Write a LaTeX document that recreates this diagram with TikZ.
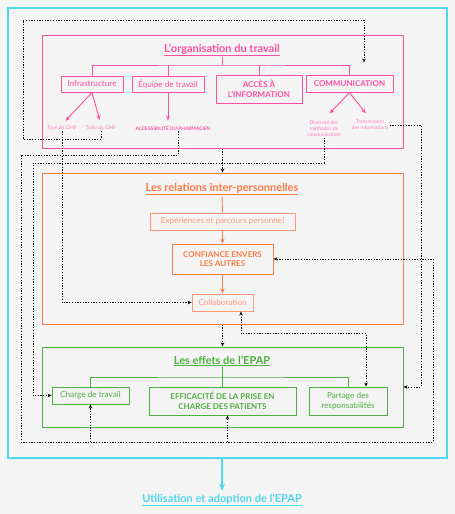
\documentclass[tikz,border=0pt]{standalone}
\usepackage{fontspec}
\setmainfont{Lato}
\usetikzlibrary{arrows.meta, positioning}

\definecolor{fondgris}{HTML}{F4F4F4}
\definecolor{rose}{HTML}{FF4FA0}
\definecolor{roseclair}{HTML}{FF7DBE}
\definecolor{orangevif}{HTML}{FF7A45}
\definecolor{orangeclair}{HTML}{FF9A78}
\definecolor{vert}{HTML}{4DAF3F}
\definecolor{cyanvif}{HTML}{4DD8F0}

\tikzset{
  secbox/.style={draw, line width=1pt, inner sep=0pt},
  sectitle/.style={inner sep=1pt, font=\fontsize{11}{13}\selectfont\bfseries},
  item/.style={draw, line width=0.9pt, inner sep=1pt, align=center, font=\fontsize{8.2}{9.6}\selectfont},
  itembf/.style={item, font=\fontsize{8}{9.6}\selectfont\bfseries},
  petit/.style={inner sep=1pt, align=center, font=\fontsize{5}{6}\selectfont},
  tree/.style={line width=0.9pt},
  treearrow/.style={line width=0.9pt, -{Stealth[length=5pt,width=4pt]}},
  link/.style={line width=0.9pt, dash pattern=on 1.3pt off 1.4pt, -{Stealth[length=4pt,width=3.5pt]}},
}

\begin{document}
\begin{tikzpicture}[x=1pt, y=-1pt]
  % fond de la figure
  \fill[fondgris] (0,0) rectangle (455,514);

  % cadre general et sortie
  \node[secbox, cyanvif, line width=1.6pt, minimum width=439pt, minimum height=450pt] (cadre) at (227.5,233) {};
  \node[sectitle, text=cyanvif] (usage) at (222,500) {\underline{Utilisation et adoption de l'EPAP}};
  \draw[cyanvif, line width=1.4pt, -{Stealth[length=7pt,width=6pt]}] (usage.north |- cadre.south) -- ([yshift=2pt]usage.north);

  % ---- L'organisation du travail ----
  \node[secbox, rose, minimum width=361pt, minimum height=113pt] (orgbox) at (222.5,91.5) {};
  \node[sectitle, text=rose] (orgtitle) at (222,50) {\underline{L'organisation du travail}};
  \node[item, rose, minimum width=62pt, minimum height=16pt] (infra) at (92,84) {Infrastructure};
  \node[item, rose, minimum width=72pt, minimum height=16pt] (equipe) at (168,84) {Équipe de travail};
  \node[itembf, rose, minimum width=86pt, minimum height=28pt] (acces) at (259,89) {ACCÈS À\\L'INFORMATION};
  \node[itembf, rose, minimum width=87pt, minimum height=17pt] (comm) at (349.5,83.5) {COMMUNICATION};
  \coordinate (orgbus) at (222,65);
  \draw[tree, rose] (orgtitle.south) -- (orgbus);
  \draw[tree, rose] (infra.north) |- (orgbus) -| (comm.north);
  \draw[tree, rose] (equipe.north) -- (equipe.north |- orgbus);
  \draw[tree, rose] (acces.north) -- (acces.north |- orgbus);

  \node[petit, text=roseclair] (typegmf) at (62,128) {Type de GMF};
  \node[petit, text=roseclair] (taillegmf) at (101,128) {Taille du GMF};
  \node[petit, text=rose, font=\fontsize{4.8}{6}\selectfont\bfseries] (accpharm) at (173,128) {ACCESSIBILITÉ DU PHARMACIEN};
  \node[petit, text=roseclair] (diversite) at (324,128.5) {Diversité des\\méthodes de\\communication};
  \node[petit, text=roseclair] (transm) at (370,125) {Transmission\\des informations};
  \draw[treearrow, rose, shorten >=5pt] (infra.south) -- (typegmf.north);
  \draw[treearrow, rose, shorten >=5pt] (infra.south) -- (taillegmf.north);
  \draw[treearrow, rose, shorten >=4pt] (equipe.south) -- (equipe.south |- accpharm.north);
  \draw[treearrow, rose, shorten >=8pt] (comm.south) -- (diversite.north);
  \draw[treearrow, rose, shorten >=7pt] (comm.south) -- (transm.north);

  % ---- Les relations inter-personnelles ----
  \node[secbox, orangevif, minimum width=361pt, minimum height=151pt] (relbox) at (222.5,248.5) {};
  \node[sectitle, text=orangevif] (reltitle) at (222,189) {\underline{Les relations inter-personnelles}};
  \node[item, orangeclair, minimum width=145pt, minimum height=17pt] (exper) at (222.5,221.5) {Expériences et parcours personnel};
  \node[itembf, orangevif, minimum width=101pt, minimum height=30pt] (confiance) at (222.5,259) {CONFIANCE ENVERS\\LES AUTRES};
  \node[item, orangeclair, minimum width=61pt, minimum height=17pt] (collab) at (222.5,302.5) {Collaboration};
  \draw[tree, orangevif] (reltitle.south) -- (exper.north);
  \draw[treearrow, orangevif] (exper.south) -- (confiance.north);
  \draw[treearrow, orangevif] (confiance.south) -- (collab.north);

  % ---- Les effets de l'EPAP ----
  \node[secbox, vert, minimum width=361pt, minimum height=80pt] (effbox) at (222.5,387) {};
  \node[sectitle, text=vert] (efftitle) at (222,361) {\underline{Les effets de l'EPAP}};
  \node[item, vert, minimum width=77pt, minimum height=17pt] (charge) at (90.5,395.5) {Charge de travail};
  \node[itembf, vert, minimum width=147pt, minimum height=28pt] (effic) at (222.5,401) {EFFICACITÉ DE LA PRISE EN\\CHARGE DES PATIENTS};
  \node[item, vert, minimum width=78pt, minimum height=28pt] (partage) at (348,401) {Partage des\\responsabilités};
  \coordinate (effbus) at (222,377);
  \draw[tree, vert] (efftitle.south) -- (effbus);
  \draw[tree, vert] (charge.north) |- (effbus) -| (partage.north);
  \draw[tree, vert] (effic.north) -- (effic.north |- effbus);

  % ---- liens en pointille ----
  \coordinate (basgauche) at (21,442);
  \draw[link] (orgbox.south) -- (relbox.north);
  \draw[link] (relbox.south) -- (effbox.north);
  \draw[link] (taillegmf.south) -- ++(0,8) -| (23,20) -| ([xshift=14.5pt,yshift=12pt]comm.north);
  \draw[link] (typegmf.south) |- (collab.west);
  \draw[link] ([xshift=5pt]accpharm.south) |- (21,155) |- (433,442) |- (confiance.east);
  \draw[link] (charge.south |- basgauche) -- (charge.south);
  \draw[link] ([xshift=5pt]effic.south |- basgauche) -- ([xshift=5pt]effic.south);
  \draw[link] (diversite.south) |- (33,163) |- (charge.west);
  \draw[link] (transm.east) -| (421,387) -- (effbox.east);
  \draw[link, {Stealth[length=4pt,width=3.5pt]}-{Stealth[length=4pt,width=3.5pt]}] ([xshift=18.5pt]collab.south) -- ++(0,22) -| ([xshift=18pt]partage.north);
\end{tikzpicture}
\end{document}
